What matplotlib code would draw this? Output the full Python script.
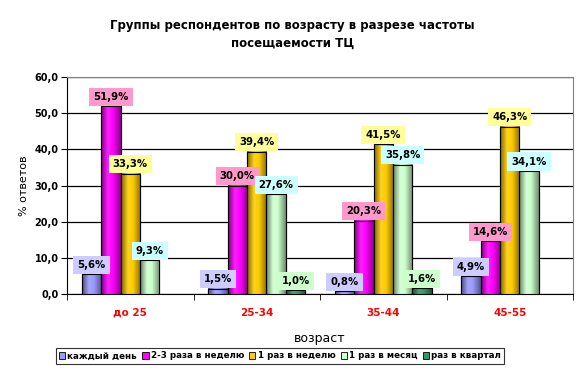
import numpy as np
import matplotlib
matplotlib.use("Agg")
import matplotlib.pyplot as plt
from matplotlib.colors import LinearSegmentedColormap, to_rgb
from matplotlib.patches import Rectangle

categories = ["до 25", "25-34", "35-44", "45-55"]
series_names = ["каждый день", "2-3 раза в неделю", "1 раз в неделю", "1 раз в месяц", "раз в квартал"]
every_day = [5.6, 1.5, 0.8, 4.9]
two_three_week = [51.9, 30.0, 20.3, 14.6]
once_week = [33.3, 39.4, 41.5, 46.3]
once_month = [9.3, 27.6, 35.8, 34.1]
once_quarter = [np.nan, 1.0, 1.6, np.nan]
series = [every_day, two_three_week, once_week, once_month, once_quarter]
yticks = [0, 10, 20, 30, 40, 50, 60]

bar_colors = ["#9999FF", "#FF00FF", "#FFCC00", "#CCFFCC", "#339966"]
label_bg = ["#CCCCFF", "#FF99CC", "#FFFF99", "#CCFFFF", "#CCFFCC"]

plt.rcParams['font.family'] = ['DejaVu Sans']
fig = plt.figure(figsize=(5.85, 3.8), dpi=100)
ax = fig.add_axes([67/585, 1-294/380, (573-67)/585, (294-77)/380])

n = len(series)
bw = 1/(n + 1.5)
x = np.arange(len(categories))

def shade(c, f):
    r = np.array(to_rgb(c))
    return tuple(r*f)

def lighten(c, f):
    r = np.array(to_rgb(c))
    return tuple(r + (1 - r)*f)

for i, (vals, col, lb) in enumerate(zip(series, bar_colors, label_bg)):
    offs = (i - (n-1)/2) * bw
    bars = ax.bar(x + offs, vals, bw, color=col, edgecolor="black", linewidth=0.8, zorder=3,
                  label=series_names[i])
    cmap = LinearSegmentedColormap.from_list(
        "g", [(0, shade(col, 0.5)), (0.35, lighten(col, 0.12)), (0.6, col), (1, shade(col, 0.55))])
    grad = np.linspace(0, 1, 64).reshape(1, -1)
    for b, v in zip(bars, vals):
        if np.isnan(v):
            continue
        x0, w, h = b.get_x(), b.get_width(), b.get_height()
        ax.imshow(grad, extent=(x0, x0+w, 0, h), aspect="auto", cmap=cmap, zorder=3.5, interpolation="bilinear")
        ax.add_patch(Rectangle((x0, 0), w, h, fill=False, edgecolor="black", linewidth=0.8, zorder=4))
        ax.annotate(f"{v:.1f}%".replace(".", ","), (x0 + w/2, h), xytext=(0, 3), textcoords="offset points",
                    ha="center", va="bottom", fontsize=7.3, fontweight="bold", zorder=6,
                    bbox=dict(boxstyle="square,pad=0.4", fc=lb, ec="none"))

ax.set_xlim(-0.5, len(categories)-0.5)
ax.set_ylim(0, 60)
ax.set_yticks(yticks)
ax.set_yticklabels([f"{t:.1f}".replace(".", ",") for t in yticks], fontsize=7, fontweight="bold")
ax.yaxis.grid(True, color="black", linewidth=0.9, zorder=0)
ax.set_axisbelow(True)
ax.set_xticks(x)
ax.set_xticklabels(categories, color="red", fontsize=7.5, fontweight="bold")
ax.tick_params(axis="x", length=0, pad=10)
ax.set_xticks(np.arange(len(categories)+1) - 0.5, minor=True)
ax.tick_params(axis="x", which="minor", length=4, direction="out")
ax.tick_params(axis="y", length=4, direction="out", pad=2)
for s in ["top", "right"]:
    ax.spines[s].set_color("#808080")
ax.spines["left"].set_color("black")
ax.spines["bottom"].set_color("black")

ax.set_ylabel("% ответов", fontsize=8)
ax.set_xlabel("возраст", fontsize=9, labelpad=10)

fig.text(0.5, 1-19/380, "Группы респондентов по возрасту в разрезе частоты\nпосещаемости ТЦ",
         ha="center", va="top", fontsize=8.5, fontweight="bold", linespacing=1.5)

handles = [Rectangle((0, 0), 1, 1, fc=c, ec="black", lw=0.6) for c in bar_colors]
leg = fig.legend(handles, series_names, loc="center", bbox_to_anchor=(280/585, 1-356/380), ncol=5,
                 frameon=True, fancybox=False, edgecolor="black", handlelength=0.7,
                 handleheight=0.7, handletextpad=0.25, columnspacing=0.6, borderpad=0.4,
                 prop={"weight": "bold", "size": 6.3})
leg.get_frame().set_linewidth(0.8)

fig.savefig("out.png", dpi=100)
